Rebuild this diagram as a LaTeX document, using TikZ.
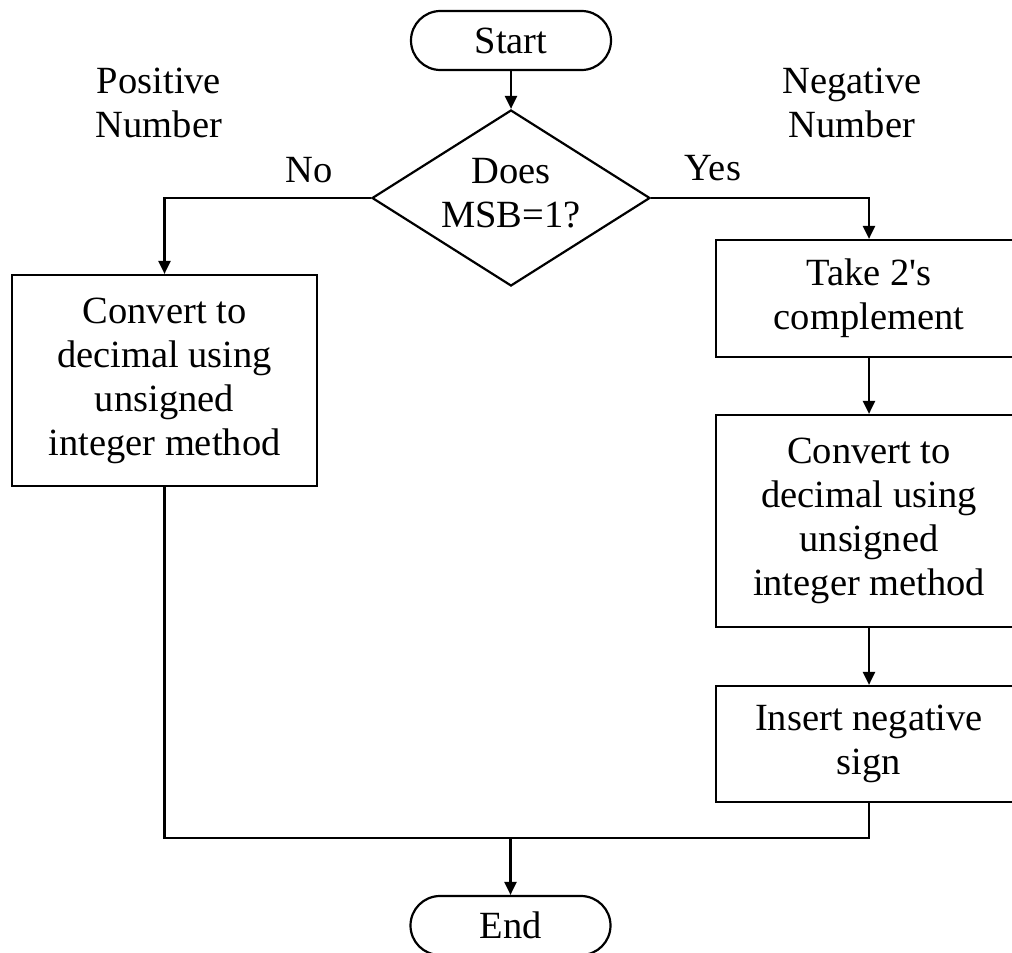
\documentclass[tikz,border=0pt]{standalone}
\usepackage{fontspec}
\setmainfont{Liberation Serif}[Ligatures=TeXOff]
\usetikzlibrary{shapes.geometric,arrows.meta}
\begin{document}
\begin{tikzpicture}[x=1pt,y=-1pt,
  every node/.style={font=\fontsize{38.5}{44}\selectfont, align=center},
  lw/.style={line width=2.2pt},
  procbox/.style={lw, draw, rectangle, inner sep=0pt},
  term/.style={lw, draw, rectangle, rounded corners=29.5pt, inner sep=0pt, minimum width=200pt, minimum height=59pt},
  decision/.style={lw, draw, diamond, inner sep=0pt, minimum width=278pt, minimum height=176pt},
  arr/.style={lw, -{Triangle[width=12pt,length=13pt]}},
  conn/.style={lw}]
\useasboundingbox (0,0) rectangle (1012,953);
\clip (0,0) rectangle (1012,953);

\node[term] (start) at (511,40.5) {Start};
\node[decision] (dec) at (511,198) {};
\node (dectext) at (511,193) {Does\\MSB=1?};

\node[procbox, minimum width=305pt, minimum height=211pt] (left) at (164.5,380.5)
  {Convert to\\decimal using\\unsigned\\integer method};
\node[procbox, minimum width=306pt, minimum height=117pt] (b1) at (869,298.5)
  {Take 2's\\complement};
\node[procbox, minimum width=306pt, minimum height=212pt] (b2) at (869,521)
  {Convert to\\decimal using\\unsigned\\integer method};
\node[procbox, minimum width=306pt, minimum height=116pt] (b3) at (869,744)
  {Insert negative\\sign};
\node[term] (end) at (510.5,925.5) {End};

\node (pos) at (159,103) {Positive\\Number};
\node (neg) at (852,103) {Negative\\Number};
\node (no) at (309,170) {No};
\node (yes) at (713,168) {Yes};

\coordinate (m) at (510.5,838);

\draw[arr] (start) -- (dec);
\draw[arr] (dec.west) -| (left.north);
\draw[arr] (dec.east) -| (b1.north);
\draw[arr] (b1) -- (b2);
\draw[arr] (b2) -- (b3);
\draw[conn] (left.south) |- (m) -| (b3.south);
\draw[arr] (m) -- (end.north);
\end{tikzpicture}
\end{document}
